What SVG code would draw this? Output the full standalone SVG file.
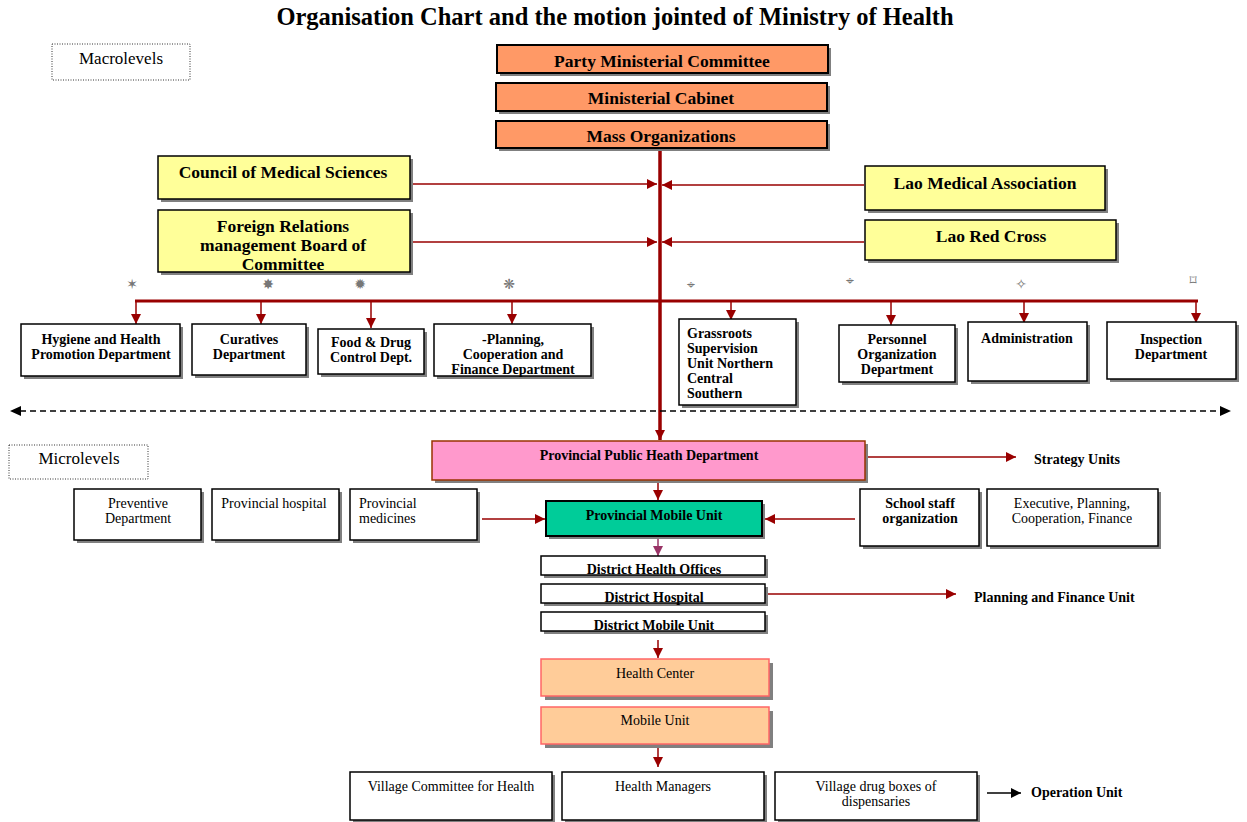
<svg xmlns="http://www.w3.org/2000/svg" width="1247" height="822" viewBox="0 0 1247 822">
<style>
text{font-family:"Liberation Serif","Times New Roman",serif;fill:#000}
.t{font-size:24.5px;font-weight:bold}
.l{font-size:17.5px;font-weight:bold}
.s{font-size:14px;font-weight:bold}
.n{font-size:14px}
.m{font-size:17px}
.c{text-anchor:middle}
.sh{fill:#808080}
.w{fill:#fff;stroke:#000;stroke-width:1.5}
.o{fill:#FF9966;stroke:#000;stroke-width:2}
.y{fill:#FFFF99;stroke:#000;stroke-width:1.5}
.pk{fill:#FF99CC;stroke:#993300;stroke-width:1.5}
.g{fill:#00CC99;stroke:#000;stroke-width:2}
.hc{fill:#FFCC99;stroke:#FF6666;stroke-width:1.5}
.dot{fill:#fff;stroke:#333;stroke-width:1;stroke-dasharray:1 1.5}
.r{stroke:#990000;fill:none}
.star{font-family:"DejaVu Sans",sans-serif;font-size:14px;fill:#777;text-anchor:middle}
</style>
<defs>
<marker id="ar" markerUnits="userSpaceOnUse" markerWidth="11" markerHeight="10" refX="10" refY="5" orient="auto"><path d="M0,0 L10,5 L0,10 z" fill="#990000"/></marker>
<marker id="ap" markerUnits="userSpaceOnUse" markerWidth="11" markerHeight="10" refX="10" refY="5" orient="auto"><path d="M0,0 L10,5 L0,10 z" fill="#993366"/></marker>
<marker id="ak" markerUnits="userSpaceOnUse" markerWidth="11" markerHeight="10" refX="10" refY="5" orient="auto"><path d="M0,0 L10,5 L0,10 z" fill="#000"/></marker>
</defs>
<rect width="1247" height="822" fill="#fff"/>
<text class="t c" x="615" y="25">Organisation Chart and the motion jointed of Ministry of Health</text>

<g id="macrolevels"><rect class="dot" x="52" y="44" width="138" height="36"/><text class="m c" x="121" y="64">Macrolevels</text></g>
<g id="microlevels"><rect class="dot" x="9" y="445" width="139" height="34"/><text class="m c" x="79" y="464">Microlevels</text></g>

<g id="connectors">
<line class="r" x1="660" y1="148" x2="660" y2="440" stroke-width="3.5" marker-end="url(#ar)"/>
<line class="r" x1="412" y1="184" x2="657" y2="184" stroke-width="1.5" marker-end="url(#ar)"/>
<line class="r" x1="864" y1="185" x2="662" y2="185" stroke-width="1.5" marker-end="url(#ar)"/>
<line class="r" x1="410" y1="242" x2="657" y2="242" stroke-width="1.5" marker-end="url(#ar)"/>
<line class="r" x1="864" y1="242" x2="662" y2="242" stroke-width="1.5" marker-end="url(#ar)"/>
<line class="r" x1="135" y1="301" x2="1198" y2="301" stroke-width="3"/>
<line class="r" x1="136" y1="301" x2="136" y2="324" stroke-width="1.5" marker-end="url(#ar)"/>
<line class="r" x1="261" y1="301" x2="261" y2="324" stroke-width="1.5" marker-end="url(#ar)"/>
<line class="r" x1="371" y1="301" x2="371" y2="328" stroke-width="1.5" marker-end="url(#ar)"/>
<line class="r" x1="512" y1="301" x2="512" y2="324" stroke-width="1.5" marker-end="url(#ar)"/>
<line class="r" x1="731" y1="301" x2="731" y2="320" stroke-width="1.5" marker-end="url(#ar)"/>
<line class="r" x1="891" y1="301" x2="891" y2="325" stroke-width="1.5" marker-end="url(#ar)"/>
<line class="r" x1="1024" y1="301" x2="1024" y2="323" stroke-width="1.5" marker-end="url(#ar)"/>
<line class="r" x1="1196" y1="301" x2="1196" y2="323" stroke-width="1.5" marker-end="url(#ar)"/>
<line x1="20" y1="411" x2="1230" y2="411" stroke="#000" stroke-width="1.5" stroke-dasharray="6 4"/>
<path d="M10,411 L21,406 L21,416 z M1231,411 L1220,406 L1220,416 z" fill="#000"/>
<line class="r" x1="867" y1="457" x2="1016" y2="457" stroke-width="1.5" marker-end="url(#ar)"/>
<line class="r" x1="658" y1="481" x2="658" y2="500" stroke-width="1.5" marker-end="url(#ar)"/>
<line class="r" x1="482" y1="519" x2="545" y2="519" stroke-width="1.5" marker-end="url(#ar)"/>
<line class="r" x1="855" y1="519" x2="765" y2="519" stroke-width="1.5" marker-end="url(#ar)"/>
<line x1="658" y1="537" x2="658" y2="556" stroke="#993366" stroke-width="1.5" marker-end="url(#ap)"/>
<line class="r" x1="767" y1="594" x2="956" y2="594" stroke-width="1.5" marker-end="url(#ar)"/>
<line class="r" x1="658" y1="640" x2="658" y2="658" stroke-width="1.5" marker-end="url(#ar)"/>
<line class="r" x1="658" y1="747" x2="658" y2="767" stroke-width="1.5" marker-end="url(#ar)"/>
<line x1="987" y1="793" x2="1021" y2="793" stroke="#000" stroke-width="1.5" marker-end="url(#ak)"/>
</g>

<g id="stars">
<text class="star" x="132" y="289">✶</text>
<text class="star" x="268" y="289">✸</text>
<text class="star" x="360" y="289">✹</text>
<text class="star" x="509" y="289">❋</text>
<text class="star" x="691" y="289">⌖</text>
<text class="star" x="850" y="285">⌖</text>
<text class="star" x="1021" y="289">✧</text>
<text class="star" x="1193" y="285">⌑</text>
</g>

<g id="party"><rect class="sh" x="500" y="48" width="331" height="28"/><rect class="o" x="497" y="45" width="331" height="28"/><text class="l c" x="662" y="67">Party Ministerial Committee</text></g>
<g id="cabinet"><rect class="sh" x="499" y="86" width="331" height="28"/><rect class="o" x="496" y="83" width="331" height="28"/><text class="l c" x="661" y="104">Ministerial Cabinet</text></g>
<g id="mass"><rect class="sh" x="499" y="124" width="331" height="27"/><rect class="o" x="496" y="121" width="331" height="27"/><text class="l c" x="661" y="142">Mass Organizations</text></g>

<g id="council"><rect class="sh" x="161" y="159" width="252" height="43"/><rect class="y" x="158" y="156" width="252" height="43"/><text class="l c" x="283" y="178">Council of Medical Sciences</text></g>
<g id="foreign"><rect class="sh" x="161" y="213" width="252" height="62"/><rect class="y" x="158" y="210" width="252" height="62"/><text class="l c" x="283" y="232">Foreign Relations</text><text class="l c" x="283" y="251">management Board of</text><text class="l c" x="283" y="270">Committee</text></g>
<g id="laomed"><rect class="sh" x="868" y="169" width="240" height="44"/><rect class="y" x="865" y="166" width="240" height="44"/><text class="l c" x="985" y="189">Lao Medical Association</text></g>
<g id="redcross"><rect class="sh" x="868" y="223" width="251" height="40"/><rect class="y" x="865" y="220" width="251" height="40"/><text class="l c" x="991" y="242">Lao Red Cross</text></g>

<g id="hygiene"><rect class="sh" x="24" y="327" width="159" height="52"/><rect class="w" x="21" y="324" width="159" height="52"/><text class="s c" x="101" y="344">Hygiene and Health</text><text class="s c" x="101" y="359">Promotion Department</text></g>
<g id="curatives"><rect class="sh" x="195" y="327" width="114" height="51"/><rect class="w" x="192" y="324" width="114" height="51"/><text class="s c" x="249" y="344">Curatives</text><text class="s c" x="249" y="359">Department</text></g>
<g id="fooddrug"><rect class="sh" x="321" y="332" width="106" height="45"/><rect class="w" x="318" y="329" width="106" height="45"/><text class="s c" x="371" y="347">Food &amp; Drug</text><text class="s c" x="371" y="362">Control Dept.</text></g>
<g id="planning"><rect class="sh" x="437" y="327" width="157" height="52"/><rect class="w" x="434" y="324" width="157" height="52"/><text class="s c" x="513" y="344">-Planning,</text><text class="s c" x="513" y="359">Cooperation and</text><text class="s c" x="513" y="374">Finance Department</text></g>
<g id="grassroots"><rect class="sh" x="682" y="322" width="117" height="86"/><rect class="w" x="679" y="319" width="117" height="86"/><text class="s" x="687" y="338">Grassroots</text><text class="s" x="687" y="353">Supervision</text><text class="s" x="687" y="368">Unit Northern</text><text class="s" x="687" y="383">Central</text><text class="s" x="687" y="398">Southern</text></g>
<g id="personnel"><rect class="sh" x="842" y="328" width="116" height="57"/><rect class="w" x="839" y="325" width="116" height="57"/><text class="s c" x="897" y="344">Personnel</text><text class="s c" x="897" y="359">Organization</text><text class="s c" x="897" y="374">Department</text></g>
<g id="administration"><rect class="sh" x="971" y="325" width="119" height="59"/><rect class="w" x="968" y="322" width="119" height="59"/><text class="s c" x="1027" y="343">Administration</text></g>
<g id="inspection"><rect class="sh" x="1110" y="325" width="129" height="57"/><rect class="w" x="1107" y="322" width="129" height="57"/><text class="s c" x="1171" y="344">Inspection</text><text class="s c" x="1171" y="359">Department</text></g>

<g id="provincial-public"><rect class="sh" x="435" y="444" width="433" height="39"/><rect class="pk" x="432" y="441" width="433" height="39"/><text class="s c" x="649" y="460">Provincial Public Heath Department</text></g>
<text class="s" x="1034" y="464">Strategy Units</text>

<g id="preventive"><rect class="sh" x="77" y="492" width="127" height="51"/><rect class="w" x="74" y="489" width="127" height="51"/><text class="n c" x="138" y="508">Preventive</text><text class="n c" x="138" y="523">Department</text></g>
<g id="prov-hospital"><rect class="sh" x="215" y="492" width="127" height="51"/><rect class="w" x="212" y="489" width="127" height="51"/><text class="n c" x="274" y="508">Provincial hospital</text></g>
<g id="prov-medicines"><rect class="sh" x="353" y="492" width="127" height="51"/><rect class="w" x="350" y="489" width="127" height="51"/><text class="n" x="359" y="508">Provincial</text><text class="n" x="359" y="523">medicines</text></g>

<g id="prov-mobile"><rect class="sh" x="549" y="504" width="216" height="35"/><rect class="g" x="546" y="501" width="216" height="35"/><text class="s c" x="654" y="520">Provincial Mobile Unit</text></g>
<g id="school"><rect class="sh" x="863" y="492" width="119" height="57"/><rect class="w" x="860" y="489" width="119" height="57"/><text class="s c" x="920" y="508">School staff</text><text class="s c" x="920" y="523">organization</text></g>
<g id="executive"><rect class="sh" x="990" y="492" width="171" height="57"/><rect class="w" x="987" y="489" width="171" height="57"/><text class="n c" x="1072" y="508">Executive, Planning,</text><text class="n c" x="1072" y="523">Cooperation, Finance</text></g>

<g id="district-offices"><rect class="sh" x="544" y="559" width="224" height="19"/><rect class="w" x="541" y="556" width="224" height="19"/><text class="s c" x="654" y="574">District Health Offices</text></g>
<g id="district-hospital"><rect class="sh" x="544" y="587" width="224" height="19"/><rect class="w" x="541" y="584" width="224" height="19"/><text class="s c" x="654" y="602">District Hospital</text></g>
<g id="district-mobile"><rect class="sh" x="544" y="615" width="224" height="19"/><rect class="w" x="541" y="612" width="224" height="19"/><text class="s c" x="654" y="630">District Mobile Unit</text></g>
<text class="s" x="974" y="602">Planning and Finance Unit</text>

<g id="health-center"><rect class="sh" x="545" y="663" width="228" height="37"/><rect class="hc" x="541" y="659" width="228" height="37"/><text class="n c" x="655" y="678">Health Center</text></g>
<g id="mobile-unit"><rect class="sh" x="545" y="711" width="228" height="37"/><rect class="hc" x="541" y="707" width="228" height="37"/><text class="n c" x="655" y="725">Mobile Unit</text></g>

<g id="village-committee"><rect class="sh" x="353" y="775" width="202" height="48"/><rect class="w" x="350" y="772" width="202" height="48"/><text class="n c" x="451" y="791">Village Committee for Health</text></g>
<g id="health-managers"><rect class="sh" x="565" y="775" width="202" height="48"/><rect class="w" x="562" y="772" width="202" height="48"/><text class="n c" x="663" y="791">Health Managers</text></g>
<g id="village-drug"><rect class="sh" x="778" y="775" width="202" height="48"/><rect class="w" x="775" y="772" width="202" height="48"/><text class="n c" x="876" y="791">Village drug boxes of</text><text class="n c" x="876" y="806">dispensaries</text></g>
<text class="s" x="1031" y="797">Operation Unit</text>
</svg>
